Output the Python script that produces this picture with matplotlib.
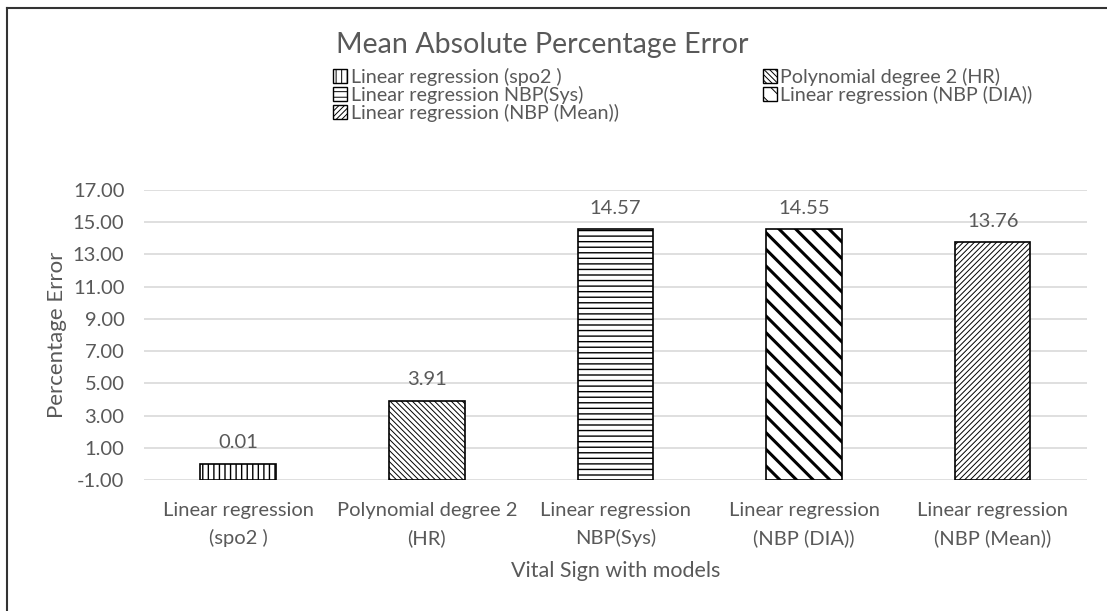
import matplotlib
matplotlib.use("Agg")
import matplotlib.pyplot as plt
from matplotlib.patches import Patch
from matplotlib.lines import Line2D
import numpy as np

# chart data
categories = [
    "Linear regression\n(spo2 )",
    "Polynomial degree 2\n(HR)",
    "Linear regression\nNBP(Sys)",
    "Linear regression\n(NBP (DIA))",
    "Linear regression\n(NBP (Mean))",
]
legend_names = [
    "Linear regression (spo2 )",
    "Polynomial degree 2 (HR)",
    "Linear regression NBP(Sys)",
    "Linear regression (NBP (DIA))",
    "Linear regression (NBP (Mean))",
]
values = [0.01, 3.91, 14.57, 14.55, 13.76]
y_ticks = [-1, 1, 3, 5, 7, 9, 11, 13, 15, 17]

# styles
hatches = ["|||", "\\\\\\\\\\\\", "---", "\\\\", "//////"]
hatch_widths = [1.0, 0.7, 1.0, 2.2, 0.7]
grey = "#595959"

plt.rcParams["font.family"] = ["Lato", "DejaVu Sans"]

fig = plt.figure(figsize=(11.07, 6.11), dpi=100)
ax = fig.add_axes([0.130, 0.2144, 0.852, 0.4746])

ymin, ymax = y_ticks[0], y_ticks[-1]
x = np.arange(len(values))
heights = np.array(values) - ymin

handles = []
for i in range(len(values)):
    plt.rcParams["hatch.linewidth"] = hatch_widths[i]
    bars = ax.bar(x[i], heights[i], bottom=ymin, width=0.4, color="white",
                  edgecolor="black", linewidth=1.2, hatch=hatches[i], zorder=3)
    if hasattr(bars[0], "set_hatch_linewidth"):
        bars[0].set_hatch_linewidth(hatch_widths[i])
    ax.bar_label(bars, labels=[f"{values[i]:.2f}"], padding=9,
                 fontsize=14.5, color=grey)
    h = Patch(facecolor="white", edgecolor="black", hatch=hatches[i],
              linewidth=1.0, label=legend_names[i])
    if hasattr(h, "set_hatch_linewidth"):
        h.set_hatch_linewidth(hatch_widths[i])
    handles.append(h)

# axes
ax.set_ylim(ymin, ymax)
ax.set_xlim(-0.5, len(values) - 0.5)
ax.set_yticks(y_ticks)
ax.set_yticklabels([f"{t:.2f}" for t in y_ticks])
ax.set_xticks(x)
ax.set_xticklabels(categories, linespacing=1.65)
ax.tick_params(axis="both", length=0, labelsize=14.5, labelcolor=grey)
ax.tick_params(axis="y", pad=14)
ax.tick_params(axis="x", pad=16)
ax.yaxis.grid(True, color="#d9d9d9", linewidth=1.2, zorder=0)
ax.set_axisbelow(True)
for s in ax.spines.values():
    s.set_visible(False)

ax.set_ylabel("Percentage Error", fontsize=16, color=grey)
ax.yaxis.set_label_coords(-0.082, 0.5)
ax.set_xlabel("Vital Sign with models", fontsize=15.5, color=grey)
ax.xaxis.set_label_coords(0.5, -0.279)

fig.text(542 / 1107, 1 - 45 / 611, "Mean Absolute Percentage Error",
         fontsize=20.6, color=grey, ha="center", va="center")

# legend, Excel fills rows first
order = [0, 2, 4, 1, 3]
fig.legend([handles[i] for i in order], [legend_names[i] for i in order],
           ncol=2, loc="upper left", bbox_to_anchor=(333 / 1107, 1 - 68 / 611),
           frameon=False, fontsize=14.2, labelcolor=grey, handlelength=0.7,
           handleheight=0.7, handletextpad=0.2, columnspacing=7.3,
           labelspacing=0.0, borderpad=0, borderaxespad=0)

# outer chart border (only top and left edges visible)
fig.add_artist(Line2D([7 / 1107, 7 / 1107], [0, 1 - 7.5 / 611],
                      transform=fig.transFigure, color="#333333", lw=1.5))
fig.add_artist(Line2D([7 / 1107, 1], [1 - 7.5 / 611, 1 - 7.5 / 611],
                      transform=fig.transFigure, color="#333333", lw=1.5))

fig.savefig("out.png", dpi=100, facecolor="white")
